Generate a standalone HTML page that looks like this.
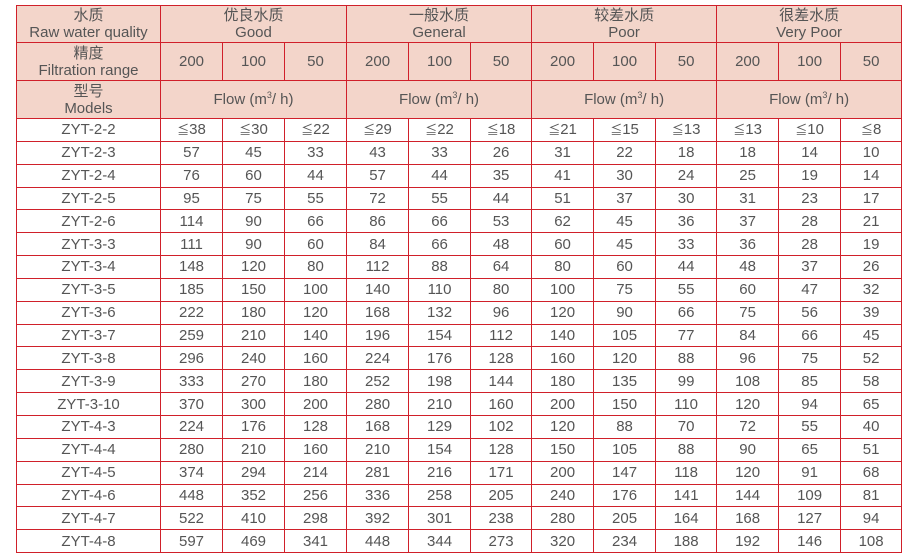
<!DOCTYPE html>
<html><head><meta charset="utf-8"><style>
body{margin:0;background:#fff;width:908px;height:560px;overflow:hidden;font-family:"Liberation Sans","Noto Sans CJK SC",sans-serif;color:#555;}
table{position:absolute;left:16px;top:5px;border-collapse:collapse;table-layout:fixed;width:885px;}
td{border:1.5px solid #d0202a;text-align:center;padding:0;font-size:15px;line-height:17px;white-space:nowrap;overflow:hidden;}
tr.h td{background:#f3d5ca;}
tr.h1 td{height:36px;}
tr.h2 td{height:37px;}
tr.d td{height:21.85px;}
sup{font-size:9px;line-height:0;}
i{font-style:normal;font-size:12px;}
</style></head><body>
<table>
<colgroup><col style="width:144px"><col style="width:62px"><col style="width:62px"><col style="width:62px"><col style="width:62px"><col style="width:62px"><col style="width:61px"><col style="width:62px"><col style="width:62px"><col style="width:61px"><col style="width:62px"><col style="width:62px"><col style="width:61px"></colgroup>
<tr class="h h1"><td>水质<br>Raw water quality</td><td colspan="3">优良水质<br>Good</td><td colspan="3">一般水质<br>General</td><td colspan="3">较差水质<br>Poor</td><td colspan="3">很差水质<br>Very Poor</td></tr>
<tr class="h h2"><td>精度<br>Filtration range</td><td>200</td><td>100</td><td>50</td><td>200</td><td>100</td><td>50</td><td>200</td><td>100</td><td>50</td><td>200</td><td>100</td><td>50</td></tr>
<tr class="h h2"><td>型号<br>Models</td><td colspan="3">Flow (m<sup>3</sup>/ h)</td><td colspan="3">Flow (m<sup>3</sup>/ h)</td><td colspan="3">Flow (m<sup>3</sup>/ h)</td><td colspan="3">Flow (m<sup>3</sup>/ h)</td></tr>
<tr class="d"><td>ZYT-2-2</td><td><i>≦</i>38</td><td><i>≦</i>30</td><td><i>≦</i>22</td><td><i>≦</i>29</td><td><i>≦</i>22</td><td><i>≦</i>18</td><td><i>≦</i>21</td><td><i>≦</i>15</td><td><i>≦</i>13</td><td><i>≦</i>13</td><td><i>≦</i>10</td><td><i>≦</i>8</td></tr>
<tr class="d"><td>ZYT-2-3</td><td>57</td><td>45</td><td>33</td><td>43</td><td>33</td><td>26</td><td>31</td><td>22</td><td>18</td><td>18</td><td>14</td><td>10</td></tr>
<tr class="d"><td>ZYT-2-4</td><td>76</td><td>60</td><td>44</td><td>57</td><td>44</td><td>35</td><td>41</td><td>30</td><td>24</td><td>25</td><td>19</td><td>14</td></tr>
<tr class="d"><td>ZYT-2-5</td><td>95</td><td>75</td><td>55</td><td>72</td><td>55</td><td>44</td><td>51</td><td>37</td><td>30</td><td>31</td><td>23</td><td>17</td></tr>
<tr class="d"><td>ZYT-2-6</td><td>114</td><td>90</td><td>66</td><td>86</td><td>66</td><td>53</td><td>62</td><td>45</td><td>36</td><td>37</td><td>28</td><td>21</td></tr>
<tr class="d"><td>ZYT-3-3</td><td>111</td><td>90</td><td>60</td><td>84</td><td>66</td><td>48</td><td>60</td><td>45</td><td>33</td><td>36</td><td>28</td><td>19</td></tr>
<tr class="d"><td>ZYT-3-4</td><td>148</td><td>120</td><td>80</td><td>112</td><td>88</td><td>64</td><td>80</td><td>60</td><td>44</td><td>48</td><td>37</td><td>26</td></tr>
<tr class="d"><td>ZYT-3-5</td><td>185</td><td>150</td><td>100</td><td>140</td><td>110</td><td>80</td><td>100</td><td>75</td><td>55</td><td>60</td><td>47</td><td>32</td></tr>
<tr class="d"><td>ZYT-3-6</td><td>222</td><td>180</td><td>120</td><td>168</td><td>132</td><td>96</td><td>120</td><td>90</td><td>66</td><td>75</td><td>56</td><td>39</td></tr>
<tr class="d"><td>ZYT-3-7</td><td>259</td><td>210</td><td>140</td><td>196</td><td>154</td><td>112</td><td>140</td><td>105</td><td>77</td><td>84</td><td>66</td><td>45</td></tr>
<tr class="d"><td>ZYT-3-8</td><td>296</td><td>240</td><td>160</td><td>224</td><td>176</td><td>128</td><td>160</td><td>120</td><td>88</td><td>96</td><td>75</td><td>52</td></tr>
<tr class="d"><td>ZYT-3-9</td><td>333</td><td>270</td><td>180</td><td>252</td><td>198</td><td>144</td><td>180</td><td>135</td><td>99</td><td>108</td><td>85</td><td>58</td></tr>
<tr class="d"><td>ZYT-3-10</td><td>370</td><td>300</td><td>200</td><td>280</td><td>210</td><td>160</td><td>200</td><td>150</td><td>110</td><td>120</td><td>94</td><td>65</td></tr>
<tr class="d"><td>ZYT-4-3</td><td>224</td><td>176</td><td>128</td><td>168</td><td>129</td><td>102</td><td>120</td><td>88</td><td>70</td><td>72</td><td>55</td><td>40</td></tr>
<tr class="d"><td>ZYT-4-4</td><td>280</td><td>210</td><td>160</td><td>210</td><td>154</td><td>128</td><td>150</td><td>105</td><td>88</td><td>90</td><td>65</td><td>51</td></tr>
<tr class="d"><td>ZYT-4-5</td><td>374</td><td>294</td><td>214</td><td>281</td><td>216</td><td>171</td><td>200</td><td>147</td><td>118</td><td>120</td><td>91</td><td>68</td></tr>
<tr class="d"><td>ZYT-4-6</td><td>448</td><td>352</td><td>256</td><td>336</td><td>258</td><td>205</td><td>240</td><td>176</td><td>141</td><td>144</td><td>109</td><td>81</td></tr>
<tr class="d"><td>ZYT-4-7</td><td>522</td><td>410</td><td>298</td><td>392</td><td>301</td><td>238</td><td>280</td><td>205</td><td>164</td><td>168</td><td>127</td><td>94</td></tr>
<tr class="d"><td>ZYT-4-8</td><td>597</td><td>469</td><td>341</td><td>448</td><td>344</td><td>273</td><td>320</td><td>234</td><td>188</td><td>192</td><td>146</td><td>108</td></tr>
</table>
</body></html>
